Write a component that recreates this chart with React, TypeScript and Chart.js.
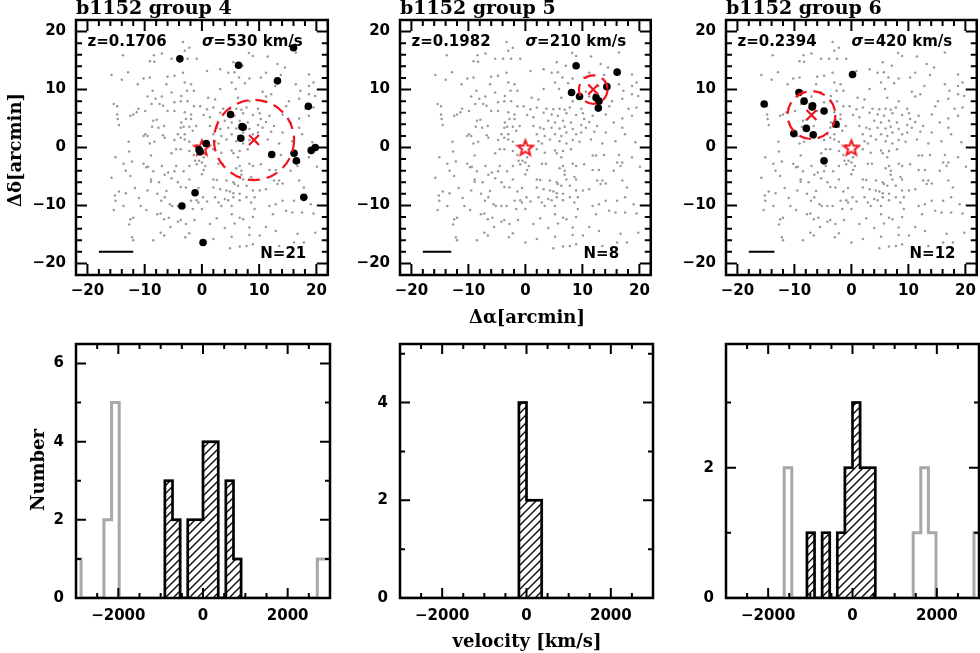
import React, { useEffect, useRef } from "react";
import { Chart, registerables } from "chart.js";
Chart.register(...registerables);

// ---------------- data ----------------
const groupTitles = ["b1152 group 4", "b1152 group 5", "b1152 group 6"];
const redshiftLabels = ["z=0.1706", "z=0.1982", "z=0.2394"];
const sigmaValues = [530, 210, 420];
const memberCounts = [21, 8, 12];

// tick labels
const skyTicks = [-20, -10, 0, 10, 20];
const velocityTicks = [-2000, 0, 2000];
const numberTicks = [[0, 2, 4, 6], [0, 2, 4], [0, 2]];

// background galaxies (Δα, Δδ in arcmin), same field in every panel
const fieldGalaxies: [number, number][] = [
  [-3.3,18.2],[-2.2,17.2],[-13.8,15.9],[-8.4,15.9],[-7.0,16.2],[-3.0,16.7],[-9.1,14.9],[-8.3,14.8],[-5.3,15.3],[-3.9,15.3],[-2.5,15.3],[-0.9,15.3],[-12.9,13.0],[-15.8,12.5],[-14.0,11.7],[-10.2,11.9],[-9.1,12.1],[-6.0,12.2],[-4.8,12.4],[-3.3,12.9],[-11.2,10.9],[-6.2,10.9],[-3.0,11.2],[-1.9,10.9],[-8.6,9.8],[-9.5,8.8],[-8.1,8.4],[-7.0,8.8],[-5.3,9.5],[-3.6,8.9],[-2.6,9.8],[-1.4,9.8],[-15.4,7.5],[-14.8,7.1],[-11.1,6.7],[-8.8,7.5],[-7.4,7.5],[-6.8,7.2],[-4.8,7.8],[-3.7,8.0],[-2.5,8.0],[-1.4,7.1],[-14.8,5.7],[-14.7,4.9],[-12.5,5.5],[-12.0,5.7],[-11.4,6.1],[-9.9,6.3],[-6.0,6.3],[-4.8,6.3],[-3.0,6.1],[-1.9,5.7],[-8.5,4.6],[-7.9,4.8],[-3.6,4.3],[-2.8,4.9],[-1.9,4.9],[-14.5,3.9],[-8.7,3.6],[-7.6,3.4],[-6.6,3.7],[-3.7,3.4],[-3.2,3.6],[-2.2,3.6],[-1.0,3.7],[-9.9,2.3],[-10.2,2.0],[-9.5,2.0],[-6.8,2.1],[-6.5,1.7],[-4.2,2.3],[-3.7,1.7],[-3.0,2.3],[-1.6,2.9],[-12.8,1.0],[-9.1,0.7],[-8.3,1.0],[-4.8,1.3],[-3.0,1.4],[-2.2,1.0],[-0.9,0.4],
  [8.2,16.3],[8.9,15.8],[11.5,15.7],[16.4,16.4],[5.5,14.7],[7.1,14.1],[13.2,14.4],[14.5,13.8],[0.9,13.2],[3.2,13.5],[4.6,12.9],[5.7,13.0],[11.2,12.9],[6.5,12.1],[8.3,11.9],[10.3,12.1],[13.8,12.5],[18.7,12.6],[5.2,11.2],[7.5,11.1],[12.8,10.6],[16.4,10.9],[18.7,10.6],[19.5,11.2],[3.2,10.1],[5.9,10.1],[10.6,9.6],[12.1,9.2],[17.2,9.8],[18.7,9.2],[19.8,8.9],[1.1,8.6],[2.3,8.3],[6.3,8.6],[8.3,8.0],[11.2,8.8],[15.2,8.0],[17.0,8.4],[-0.3,7.1],[0.9,6.6],[2.0,6.9],[3.7,6.7],[4.9,6.6],[6.0,6.7],[6.9,6.5],[7.8,6.9],[9.8,6.7],[14.7,7.1],[18.1,6.7],[19.5,6.9],[0.3,5.6],[1.4,5.2],[3.2,6.0],[4.6,5.7],[5.7,5.5],[7.2,5.9],[8.9,5.6],[10.1,5.9],[11.8,5.5],[14.1,5.7],[17.0,5.0],[18.7,5.5],[4.0,4.6],[5.2,4.3],[6.6,4.6],[8.0,4.3],[10.3,4.9],[11.2,4.4],[15.5,4.3],[1.4,3.7],[2.6,3.4],[3.2,3.2],[4.6,3.4],[6.0,3.3],[6.9,3.6],[8.3,3.2],[9.8,3.9],[10.6,3.4],[12.6,3.7],[17.0,3.4],[2.0,2.3],[3.4,2.0],[5.2,2.3],[6.3,2.0],[7.2,2.6],[8.9,2.3],[9.8,2.6],[12.1,2.7],[14.1,2.6],[17.5,2.3],[2.3,1.1],[2.9,0.7],[4.3,1.4],[6.0,1.1],[7.2,0.7],[8.3,1.3],[9.5,1.0],[11.5,1.4],[13.5,0.7],[15.8,1.1],[19.3,0.9],
  [-12.7,-0.7],[-8.9,-1.4],[-5.3,-1.0],[-4.5,-0.3],[-3.7,-0.3],[-2.2,-0.6],[-1.4,-1.3],[-1.2,-2.3],[-0.5,-2.3],[-15.1,-1.7],[-13.7,-2.8],[-12.2,-2.4],[-10.2,-2.8],[-9.7,-3.4],[-8.5,-4.1],[-9.4,-3.3],[-7.0,-3.2],[-5.9,-4.3],[-4.8,-4.1],[-4.5,-3.2],[-3.2,-4.1],[-2.2,-3.2],[-0.9,-2.9],[-13.3,-4.0],[-12.5,-4.9],[-15.8,-5.2],[-8.9,-5.5],[-8.9,-5.9],[-7.5,-6.0],[-6.5,-4.7],[-5.3,-5.3],[-4.2,-6.0],[-2.2,-5.5],[-14.5,-7.6],[-15.2,-8.3],[-13.3,-7.9],[-11.7,-7.0],[-9.5,-7.4],[-7.8,-8.0],[-6.2,-7.5],[-3.7,-6.8],[-2.8,-6.9],[-1.4,-7.6],[-0.6,-7.0],[-15.1,-9.2],[-11.0,-8.7],[-7.1,-9.2],[-6.5,-8.6],[-5.6,-9.8],[-5.2,-10.1],[-4.2,-10.1],[-3.3,-10.1],[-1.9,-9.2],[-0.9,-9.1],[-0.6,-9.5],[-15.4,-10.8],[-13.7,-10.1],[-10.7,-10.1],[-9.7,-10.8],[-7.8,-11.5],[-7.2,-11.4],[-6.6,-12.4],[-5.8,-12.1],[-4.2,-12.8],[-3.7,-12.5],[-2.8,-13.2],[-1.6,-10.6],[-1.3,-12.5],[-12.0,-12.1],[-12.5,-12.4],[-12.7,-13.3],[-5.5,-13.7],[-6.6,-15.2],[-7.2,-14.7],[-2.2,-14.8],[-2.9,-15.5],[-12.2,-15.5],[-12.0,-16.0],[-8.5,-16.0],
  [2.0,-0.3],[3.4,-0.9],[5.2,-0.5],[5.5,-1.0],[6.6,-0.6],[8.0,-0.3],[0.3,-1.7],[0.0,-2.6],[0.6,-3.2],[0.3,-3.9],[0.0,-4.6],[2.9,-2.8],[3.6,-2.8],[6.3,-1.7],[6.6,-3.2],[6.0,-3.6],[6.9,-4.0],[8.3,-2.8],[8.9,-3.2],[10.3,-2.9],[11.8,-1.4],[12.4,-1.4],[13.8,-1.3],[16.4,-1.3],[16.1,-2.6],[17.0,-2.6],[18.7,-1.7],[20.1,-3.3],[6.9,-4.7],[8.6,-5.1],[8.9,-5.5],[11.8,-3.9],[12.9,-3.9],[15.5,-4.0],[16.7,-3.2],[2.0,-5.5],[2.6,-5.6],[4.3,-5.7],[5.5,-6.0],[5.7,-6.3],[7.2,-5.5],[2.0,-6.9],[3.2,-7.2],[4.3,-7.4],[4.9,-7.6],[6.3,-6.6],[5.5,-7.9],[6.6,-8.0],[7.8,-6.6],[8.9,-7.4],[10.1,-7.4],[11.2,-7.2],[12.6,-5.7],[13.5,-5.7],[13.2,-6.3],[14.1,-6.2],[17.0,-5.7],[17.8,-6.9],[2.3,-8.6],[4.0,-8.9],[4.6,-9.1],[5.5,-8.6],[6.6,-9.1],[7.8,-8.6],[9.2,-8.6],[0.2,-8.6],[0.9,-9.3],[2.9,-9.5],[3.4,-10.1],[5.2,-10.1],[8.6,-9.5],[9.2,-10.6],[11.8,-10.1],[12.9,-9.8],[14.1,-9.2],[16.1,-9.2],[17.5,-8.6],[19.0,-9.8],[0.0,-10.6],[2.6,-12.2],[5.2,-11.5],[6.6,-12.1],[7.2,-12.4],[8.9,-12.0],[12.4,-11.5],[14.7,-10.9],[15.8,-11.2],[17.5,-11.2],[19.5,-11.4],[1.4,-13.2],[4.0,-13.9],[5.7,-13.1],[8.3,-13.8],[11.2,-13.7],[12.9,-14.4],[16.7,-14.9],[19.8,-14.7],[2.0,-15.8],[5.2,-15.4],[8.3,-15.1],[10.1,-15.2],[0.0,-16.4],[4.9,-17.4],[6.6,-17.1],[7.8,-17.0],[8.9,-16.7],[13.5,-17.0],[16.1,-16.4],[17.8,-16.4]
];

const members4: [number, number][] = [
  [-3.85,15.3],[6.4,14.2],[16.0,17.2],[13.2,11.5],[18.6,7.1],[5.0,5.7],[7.0,3.6],[7.2,3.5],[6.8,1.6],[0.75,0.7],[-0.3,-0.75],[-0.5,-0.4],
  [12.2,-1.2],[16.1,-1.0],[16.5,-2.3],[19.1,-0.5],[19.8,0.0],[17.8,-8.6],[-1.2,-7.8],[-3.5,-10.1],[0.2,-16.4]
];
const members5: [number, number][] = [
  [8.9,14.1],[16.1,13.0],[8.1,9.5],[9.5,8.8],[14.3,10.5],[12.4,8.6],[12.9,8.0],[12.8,6.8]
];
const members6: [number, number][] = [
  [0.2,12.6],[-15.3,7.5],[-9.2,9.5],[-8.3,8.0],[-6.8,7.2],[-4.8,6.3],[-2.7,4.0],[-7.9,3.3],[-10.1,2.4],[-6.7,2.2],[-4.8,-2.3],[-6.9,7.0]
];
const groupMembers = [members4, members5, members6];
const groupCenters: [number, number][] = [[9.1, 1.3], [11.9, 10.0], [-7.0, 5.6]];
const groupRadii = [7.0, 2.5, 4.2];
const clusterCenter: [number, number] = [0, 0];
const scaleBarStart = -18;
const scaleBarEnd = [-12, -13, -13.5];
const scaleBarDec = -18;

// velocity histograms, bins of 180 km/s starting at -3060
const velocityBinStart = -3060;
const velocityBinWidth = 180;
const allCounts4 = [1,0,0,0,2,5,0,0,0,0,0,0,3,2,0,2,2,4,4,0,3,1,0,0,0,0,0,0,0,0,0,0,1,1];
const allCounts5 = [0,0,0,0,0,0,0,0,0,0,0,0,0,0,0,0,4,2,2,0,0,0,0,0,0,0,0,0,0,0,0,0,0,0];
const allCounts6 = [0,0,0,0,0,0,0,0,2,0,0,1,0,1,0,1,2,3,2,2,0,0,0,0,0,1,2,1,0,0,0,0,0,1];
const groupBinStart = [-900, -180, -1080];
const groupCounts4 = [3,2,0,2,2,4,4,0,3,1];
const groupCounts5 = [4,2,2];
const groupCounts6 = [1,0,1,0,1,2,3,2,2];
const allCounts = [allCounts4, allCounts5, allCounts6];
const groupCounts = [groupCounts4, groupCounts5, groupCounts6];
const histYMax = [6.5, 5.2, 3.9];

// ---------------- layout / style ----------------
const COL_LEFT = [76, 400, 726];
const COL_WIDTH = [254, 253, 253];
const ROW_TOP = [20, 343];
const ROW_HEIGHT = 255;
const PAD_T = 20, PAD_B = 55, PAD_R = 4;
const PAD_L = [76, 70, 70];
const RED = "#f2141b";
const TICK_FONT = { family: "DejaVu Sans", size: 15, weight: "bold" as const };
const SERIF = '"DejaVu Serif"';

function fmt(v: number) {
  return v < 0 ? "\u2212" + Math.abs(v) : String(v);
}
function isMajor(v: number, step: number) {
  const q = v / step;
  return Math.abs(q - Math.round(q)) < 1e-6;
}

const decorPlugin = {
  id: "decor",
  afterDatasetsDraw(chart: any, _args: any, o: any) {
    const { ctx, chartArea: a } = chart;
    const xs = chart.scales.x, ys = chart.scales.y;
    ctx.save();
    if (o.circle) {
      const [cx, cy, r] = o.circle;
      const px = xs.getPixelForValue(cx), py = ys.getPixelForValue(cy);
      const rp = Math.abs(xs.getPixelForValue(cx + r) - px);
      ctx.strokeStyle = RED;
      ctx.lineWidth = 2.2;
      ctx.setLineDash([12, 7]);
      ctx.beginPath();
      ctx.arc(px, py, rp, 0, Math.PI * 2);
      ctx.stroke();
      ctx.setLineDash([]);
    }
    ctx.strokeStyle = "#000";
    ctx.lineWidth = 2.5;
    ctx.strokeRect(a.left, a.top, a.right - a.left, a.bottom - a.top);
    ctx.lineWidth = 2;
    ctx.beginPath();
    for (let v = Math.ceil(xs.min / o.xMinor) * o.xMinor; v <= xs.max + 1e-9; v += o.xMinor) {
      const p = xs.getPixelForValue(v);
      const len = isMajor(v, o.xMajor) ? o.majorLen : o.minorLen;
      ctx.moveTo(p, a.bottom); ctx.lineTo(p, a.bottom - len);
      ctx.moveTo(p, a.top); ctx.lineTo(p, a.top + len);
    }
    for (let v = Math.ceil(ys.min / o.yMinor) * o.yMinor; v <= ys.max + 1e-9; v += o.yMinor) {
      const p = ys.getPixelForValue(v);
      const len = isMajor(v, o.yMajor) ? o.majorLen : o.minorLen;
      ctx.moveTo(a.left, p); ctx.lineTo(a.left + len, p);
      ctx.moveTo(a.right, p); ctx.lineTo(a.right - len, p);
    }
    ctx.stroke();

    ctx.fillStyle = "#000";
    (o.dataTexts || []).forEach((t: any) => {
      let px = xs.getPixelForValue(t.x);
      const py = ys.getPixelForValue(t.y);
      ctx.textAlign = "left";
      ctx.textBaseline = "alphabetic";
      t.parts.forEach((p: any) => {
        ctx.font = p.font;
        ctx.fillText(p.t, px, py);
        px += ctx.measureText(p.t).width;
      });
    });
    (o.pageTexts || []).forEach((t: any) => {
      ctx.save();
      ctx.font = t.font;
      ctx.textAlign = t.align || "center";
      ctx.textBaseline = t.baseline || "middle";
      ctx.translate(t.x - o.offX, t.y - o.offY);
      if (t.rot) ctx.rotate(t.rot);
      ctx.fillText(t.t, 0, 0);
      ctx.restore();
    });
    ctx.restore();
  },
};

function makeStar() {
  const c = document.createElement("canvas");
  c.width = 20; c.height = 20;
  const g = c.getContext("2d")!;
  g.strokeStyle = RED;
  g.lineWidth = 2;
  g.beginPath();
  for (let i = 0; i < 10; i++) {
    const r = i % 2 ? 3.4 : 8;
    const ang = -Math.PI / 2 + (i * Math.PI) / 5;
    const px = 10 + r * Math.cos(ang), py = 10.8 + r * Math.sin(ang);
    if (i) g.lineTo(px, py); else g.moveTo(px, py);
  }
  g.closePath();
  g.stroke();
  return c;
}

function makeHatch(ctx: CanvasRenderingContext2D) {
  const c = document.createElement("canvas");
  c.width = 8; c.height = 8;
  const g = c.getContext("2d")!;
  g.strokeStyle = "#000";
  g.lineWidth = 1.3;
  g.beginPath();
  g.moveTo(-1, 9); g.lineTo(9, -1);
  g.moveTo(-3, 3); g.lineTo(3, -3);
  g.moveTo(5, 11); g.lineTo(11, 5);
  g.stroke();
  return ctx.createPattern(c, "repeat");
}

function stepPoints(start: number, width: number, counts: number[]) {
  const pts: { x: number; y: number }[] = [{ x: start, y: 0 }];
  counts.forEach((c, i) => {
    pts.push({ x: start + i * width, y: c });
    pts.push({ x: start + (i + 1) * width, y: c });
  });
  pts.push({ x: start + counts.length * width, y: 0 });
  return pts;
}

function baseOptions(col: number, row: number, extra: any) {
  const offX = COL_LEFT[col] - PAD_L[col];
  const offY = ROW_TOP[row] - PAD_T;
  return {
    animation: false,
    responsive: false,
    devicePixelRatio: 1,
    events: [],
    layout: { padding: { top: PAD_T, right: PAD_R, left: 0, bottom: 0 }, autoPadding: false },
    plugins: {
      legend: { display: false },
      tooltip: { enabled: false },
      decor: { offX, offY, ...extra.decor },
    },
    scales: {
      x: {
        type: "linear",
        min: extra.xMin, max: extra.xMax,
        grid: { display: false, drawTicks: false },
        border: { display: false },
        ticks: {
          autoSkip: false, maxRotation: 0,
          font: TICK_FONT, color: "#000", padding: extra.xPad,
          callback: (v: any) => fmt(Number(v)),
        },
        afterBuildTicks: (s: any) => { s.ticks = extra.xTicks.map((v: number) => ({ value: v })); },
        afterFit: (s: any) => { s.height = PAD_B; },
      },
      y: {
        type: "linear",
        min: extra.yMin, max: extra.yMax,
        grid: { display: false, drawTicks: false },
        border: { display: false },
        ticks: {
          autoSkip: false,
          font: TICK_FONT, color: "#000", padding: extra.yPad,
          callback: (v: any) => fmt(Number(v)),
        },
        afterBuildTicks: (s: any) => { s.ticks = extra.yTicks.map((v: number) => ({ value: v })); },
        afterFit: (s: any) => { s.width = PAD_L[col]; },
      },
    },
  };
}

function scatterConfig(i: number, ctx: CanvasRenderingContext2D): any {
  const pageTexts: any[] = [
    { t: groupTitles[i], font: `bold 19px ${SERIF}`, x: COL_LEFT[i], y: 14, align: "left", baseline: "alphabetic" },
  ];
  if (i === 0) pageTexts.push({ t: "Δδ[arcmin]", font: `bold 18px ${SERIF}`, x: 16, y: 150, rot: -Math.PI / 2 });
  if (i === 1) pageTexts.push({ t: "Δα[arcmin]", font: `bold 18px ${SERIF}`, x: 527, y: 318 });
  const bold = 'bold 15px "DejaVu Sans"';
  return {
    type: "scatter",
    data: {
      datasets: [
        {
          data: [{ x: groupCenters[i][0], y: groupCenters[i][1] }],
          pointStyle: "crossRot", pointRadius: 7, borderColor: RED, borderWidth: 2.2, backgroundColor: RED, order: 0,
        },
        {
          data: groupMembers[i].map(([x, y]) => ({ x, y })),
          pointRadius: 3.8, backgroundColor: "#000", borderWidth: 0, order: 1,
        },
        {
          data: [{ x: clusterCenter[0], y: clusterCenter[1] }],
          pointStyle: makeStar(), pointRadius: 9, order: 2,
        },
        {
          data: [{ x: scaleBarStart, y: scaleBarDec }, { x: scaleBarEnd[i], y: scaleBarDec }],
          showLine: true, borderColor: "#000", borderWidth: 2, pointRadius: 0, order: 3,
        },
        {
          data: fieldGalaxies.map(([x, y]) => ({ x, y })),
          pointRadius: 1.25, backgroundColor: "#999999", borderWidth: 0, order: 4,
        },
      ],
    },
    options: baseOptions(i, 0, {
      xMin: -22, xMax: 22, xTicks: skyTicks, xPad: 7,
      yMin: -22, yMax: 22, yTicks: skyTicks, yPad: 10,
      decor: {
        xMinor: 2, xMajor: 10, yMinor: 2, yMajor: 10, majorLen: 11, minorLen: 6,
        circle: [groupCenters[i][0], groupCenters[i][1], groupRadii[i]],
        dataTexts: [
          { x: -20, y: 17.5, parts: [{ t: redshiftLabels[i], font: bold }] },
          { x: 0, y: 17.5, parts: [{ t: "σ", font: 'bold italic 15px "DejaVu Sans"' }, { t: `=${sigmaValues[i]} km/s`, font: bold }] },
          { x: 10.2, y: -19, parts: [{ t: `N=${memberCounts[i]}`, font: bold }] },
        ],
        pageTexts,
      },
    }),
    plugins: [decorPlugin],
  };
}

function histConfig(i: number, ctx: CanvasRenderingContext2D): any {
  const pageTexts: any[] = [];
  if (i === 0) pageTexts.push({ t: "Number", font: `bold 18px ${SERIF}`, x: 39, y: 470, rot: -Math.PI / 2 });
  if (i === 1) pageTexts.push({ t: "velocity [km/s]", font: `bold 18px ${SERIF}`, x: 527, y: 642 });
  return {
    type: "line",
    data: {
      datasets: [
        {
          data: stepPoints(groupBinStart[i], velocityBinWidth, groupCounts[i]),
          borderColor: "#000", borderWidth: 2.5, pointRadius: 0, tension: 0,
          fill: "origin", backgroundColor: makeHatch(ctx), order: 1,
        },
        {
          data: stepPoints(velocityBinStart, velocityBinWidth, allCounts[i]),
          borderColor: "#a8a8a8", borderWidth: 3, pointRadius: 0, tension: 0, fill: false, order: 2,
        },
      ],
    },
    options: baseOptions(i, 1, {
      xMin: -3000, xMax: 3000, xTicks: velocityTicks, xPad: 9,
      yMin: 0, yMax: histYMax[i], yTicks: numberTicks[i], yPad: 12,
      decor: {
        xMinor: 500, xMajor: 2000, yMinor: 1, yMajor: 2, majorLen: 10, minorLen: 5,
        pageTexts,
      },
    }),
    plugins: [decorPlugin],
  };
}

function Panel({ col, row, make }: { col: number; row: number; make: (i: number, ctx: CanvasRenderingContext2D) => any }) {
  const ref = useRef<HTMLCanvasElement>(null);
  const w = PAD_L[col] + COL_WIDTH[col] + PAD_R;
  const h = PAD_T + ROW_HEIGHT + PAD_B;
  useEffect(() => {
    const canvas = ref.current!;
    const chart = new Chart(canvas, make(col, canvas.getContext("2d")!));
    return () => chart.destroy();
  }, []);
  return (
    <canvas
      ref={ref}
      width={w}
      height={h}
      style={{ position: "absolute", left: COL_LEFT[col] - PAD_L[col], top: ROW_TOP[row] - PAD_T, width: w, height: h }}
    />
  );
}

export default function App() {
  return (
    <div style={{ position: "absolute", left: 0, top: 0, width: 980, height: 653, overflow: "hidden", background: "#fff" }}>
      {[0, 1, 2].map((i) => (
        <Panel key={"s" + i} col={i} row={0} make={scatterConfig} />
      ))}
      {[0, 1, 2].map((i) => (
        <Panel key={"h" + i} col={i} row={1} make={histConfig} />
      ))}
    </div>
  );
}
